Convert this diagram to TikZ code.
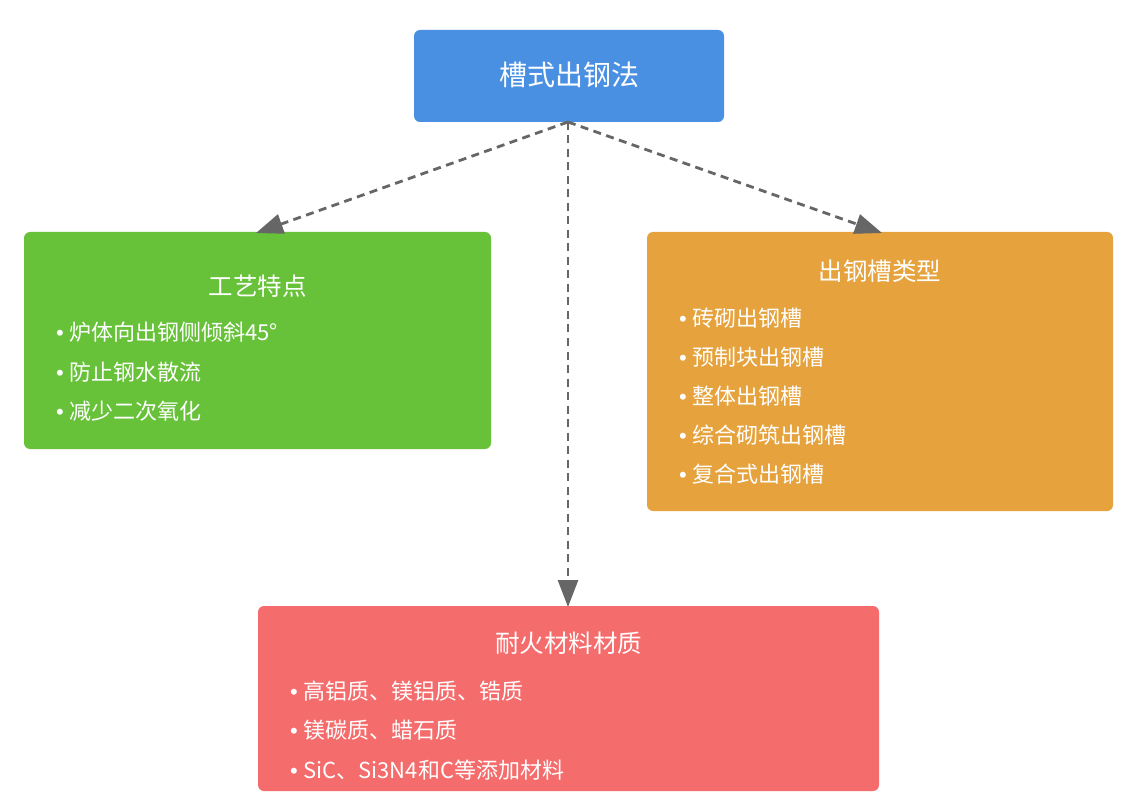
\documentclass[tikz,border=0pt]{standalone}
\usepackage{fontspec}
\setmainfont{Noto Sans CJK SC}
\newfontfamily\bulfont{Liberation Sans}
\usetikzlibrary{arrows.meta}
\definecolor{cblue}{HTML}{4A90E2}
\definecolor{cgreen}{HTML}{67C23A}
\definecolor{corange}{HTML}{E6A23C}
\definecolor{cred}{HTML}{F56C6C}
\definecolor{cline}{HTML}{666666}
\newcommand{\mybul}{{\bulfont •}\hspace{5.5pt}}
\tikzset{
  box/.style={draw=none, rounded corners=6pt, inner sep=0pt},
  ttl/.style={text=white, font=\fontsize{24.5pt}{28pt}\selectfont, inner sep=0pt},
  bigttl/.style={text=white, font=\fontsize{28pt}{32pt}\selectfont, inner sep=0pt},
  itm/.style={text=white, font=\fontsize{22pt}{25pt}\selectfont, inner sep=0pt, anchor=west},
  conn/.style={draw=cline, line width=2.8pt, dash pattern=on 8pt off 5.5pt,
    -{Triangle[length=27pt,width=20pt]}},
}
\begin{document}
\begin{tikzpicture}[x=1pt,y=-1pt]
\useasboundingbox (0,0) rectangle (1136,805);
% boxes
\node[box, fill=cblue, minimum width=310pt, minimum height=92pt] (top) at (569,76) {};
\node[box, fill=cgreen, minimum width=467pt, minimum height=217pt] (green) at (257.5,340.5) {};
\node[box, fill=corange, minimum width=466pt, minimum height=279pt] (orange) at (880,371.5) {};
\node[box, fill=cred, minimum width=621pt, minimum height=185pt] (red) at (568.5,698.5) {};
% connectors
\coordinate (gtip) at (256,233);
\coordinate (otip) at (882,233);
\coordinate (rtip) at (568,607);
\coordinate (src) at (568,122);
\draw[conn] (src) -- (gtip);
\draw[conn] (src) -- (rtip);
\draw[conn] (src) -- (otip);
% titles
\node[bigttl] (t0) at (569,75) {槽式出钢法};
\node[ttl] (t1) at (257.5,286) {工艺特点};
\node[ttl] (t2) at (880,271) {出钢槽类型};
\node[ttl] (t3) at (568.5,643) {耐火材料材质};
% green items
\node[itm] (g1) at (56,332) {\mybul 炉体向出钢侧倾斜45°};
\node[itm] (g2) at (56,372) {\mybul 防止钢水散流};
\node[itm] (g3) at (56,411) {\mybul 减少二次氧化};
% orange items
\node[itm] (o1) at (679,318) {\mybul 砖砌出钢槽};
\node[itm] (o2) at (679,357) {\mybul 预制块出钢槽};
\node[itm] (o3) at (679,396) {\mybul 整体出钢槽};
\node[itm] (o4) at (679,435) {\mybul 综合砌筑出钢槽};
\node[itm] (o5) at (679,474) {\mybul 复合式出钢槽};
% red items
\node[itm] (r1) at (290,691) {\mybul 高铝质、镁铝质、锆质};
\node[itm] (r2) at (290,730) {\mybul 镁碳质、蜡石质};
\node[itm] (r3) at (290,770) {\mybul SiC、Si3N4和C等添加材料};
\end{tikzpicture}
\end{document}
